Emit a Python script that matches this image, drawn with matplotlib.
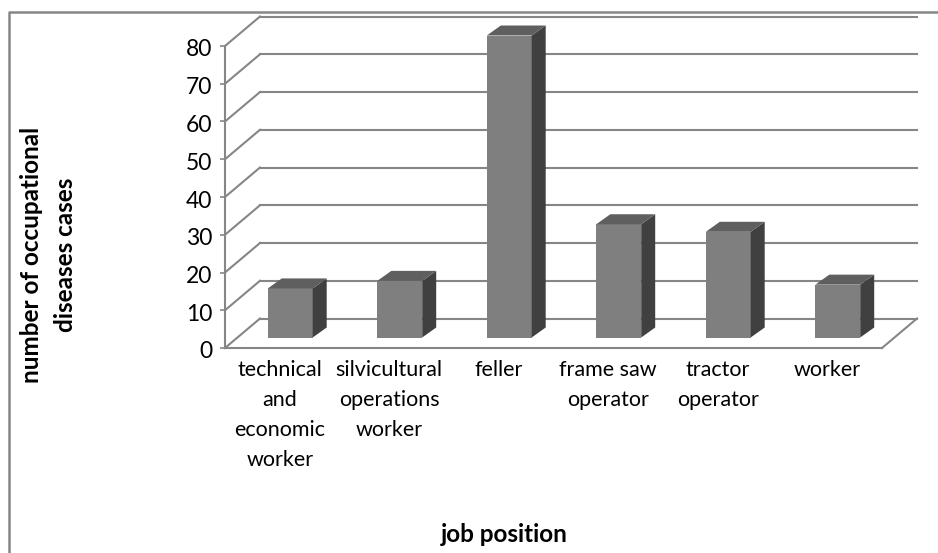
import numpy as np
import matplotlib
matplotlib.use('Agg')
import matplotlib.pyplot as plt
from matplotlib.patches import Polygon
from matplotlib.transforms import IdentityTransform, ScaledTranslation

categories = ['technical\nand\neconomic\nworker', 'silvicultural\noperations\nworker', 'feller',
              'frame saw\noperator', 'tractor\noperator', 'worker']
values = [13, 15, 80, 30, 28, 14]
yticks = [0, 10, 20, 30, 40, 50, 60, 70, 80]

W, H = 938, 553
plt.rcParams['font.family'] = ['Lato', 'DejaVu Sans']

GRID = '#868686'
# oblique offset of the back wall and of the bars, in pixels
wall_dx, wall_dy = 35, 29.5
bar_dx, bar_dy = 10.5, 10.5
side_dx, side_dy = 14, 10

fig = plt.figure(figsize=(W/100, H/100), dpi=100)
ax = fig.add_axes([225/W, (H-348)/H, 657/W, 302/H])
ax.set_xlim(0, 6)
ax.set_ylim(0, 80)
for s in ['top', 'right']:
    ax.spines[s].set_visible(False)
for s in ['left', 'bottom']:
    ax.spines[s].set_color(GRID)
    ax.spines[s].set_linewidth(1.5)

ax.set_yticks(yticks)
ax.tick_params(axis='y', length=3.5, width=1.2, color=GRID, labelsize=16.5, pad=5.5)
# labels sit a little under their ticks
for lbl in ax.get_yticklabels():
    lbl.set_transform(lbl.get_transform() + ScaledTranslation(0, -0.02, fig.dpi_scale_trans))
ax.set_xticks(np.arange(len(categories)) + 0.5)
ax.set_xticklabels(categories, fontsize=15.5, linespacing=1.62)
ax.tick_params(axis='x', length=0, pad=9)

def px(x, y):
    return ax.transData.transform((x, y))

def poly(pts, **kw):
    fig.add_artist(Polygon(pts, closed=True, transform=IdentityTransform(), **kw))

def line(xs, ys, zorder=1):
    fig.add_artist(plt.Line2D(xs, ys, color=GRID, lw=1.5, transform=IdentityTransform(), zorder=zorder))

fig.canvas.draw()

# back wall lines and the left wall diagonals
for t in yticks:
    x0, y0 = px(0, t)
    x1, y1 = px(6, t)
    line([x0, x0 + wall_dx], [y0, y0 + wall_dy])
    line([x0 + wall_dx, x1 + wall_dx], [y0 + wall_dy, y0 + wall_dy])
x1, y1 = px(6, 0)
line([x1, x1 + wall_dx], [y1, y1 + wall_dy])

# bars: front, side and top face
bar_w = 0.41
for i, v in enumerate(values):
    xl, yb = px(i + 0.5 - bar_w/2, 0)
    xr, yt = px(i + 0.5 + bar_w/2, v)
    xl, xr = xl + bar_dx, xr + bar_dx
    yb, yt = yb + bar_dy, yt + bar_dy
    poly([(xl, yb), (xr, yb), (xr, yt), (xl, yt)], fc='#7f7f7f', ec='none', zorder=5)
    poly([(xr, yb), (xr + side_dx, yb + side_dy), (xr + side_dx, yt + side_dy), (xr, yt)],
         fc='#404040', ec='none', zorder=5)
    poly([(xl, yt), (xr, yt), (xr + side_dx, yt + side_dy), (xl + side_dx, yt + side_dy)],
         fc='#5f5f5f', ec='none', zorder=5)

# axis titles
fig.text(48.5/W, 1 - 255/H, 'number of occupational\ndiseases cases', rotation=90, ha='center', va='center',
         fontsize=17.5, fontweight='bold', linespacing=1.55)
fig.text(504/W, 1 - 535/H, 'job position', ha='center', va='center', fontsize=17.5, fontweight='bold')

# chart area border, only top and left show in the crop
fig.add_artist(plt.Line2D([W, 9, 9], [H-12, H-12, 0], color=GRID, lw=1.8, transform=IdentityTransform()))

fig.savefig('out.png', dpi=100)
